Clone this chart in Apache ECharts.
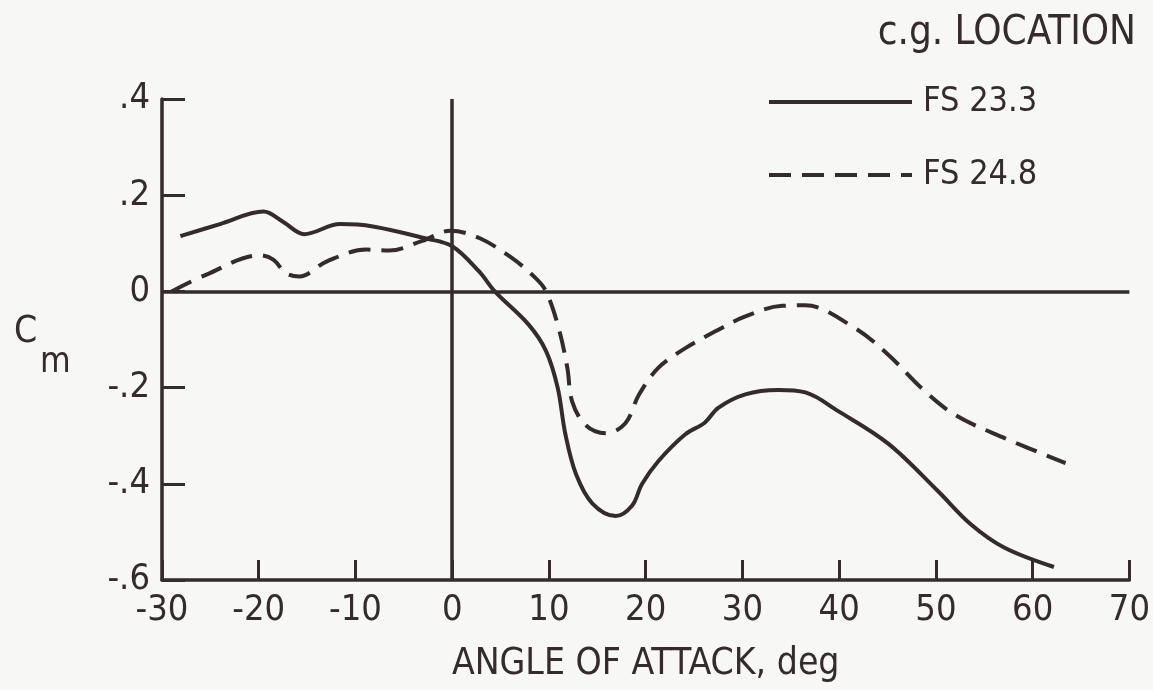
<!DOCTYPE html>
<html>
<head>
<meta charset="utf-8">
<script src="https://cdn.jsdelivr.net/npm/echarts@6/dist/echarts.min.js"></script>
<style>
  html, body { margin: 0; padding: 0; background: #f7f7f5; }
  #chart { width: 1153px; height: 690px; }
</style>
</head>
<body>
<div id="chart"></div>
<script>
// angle of attack (deg) and Cm
const fs233 = [
  [-28.1, 0.115], [-24, 0.14], [-19.5, 0.166], [-17.5, 0.145], [-15.3, 0.119],
  [-11.6, 0.140], [-8.2, 0.135], [-2.7, 0.11], [0, 0.094], [2.8, 0.041],
  [4.4, 0.0], [7.9, -0.069], [9.7, -0.124], [10.9, -0.2], [11.7, -0.297],
  [12.8, -0.380], [14.5, -0.441], [16.9, -0.467], [18.6, -0.445], [19.6, -0.401],
  [21.3, -0.353], [24.1, -0.297], [26.1, -0.273], [27.5, -0.242], [30.3, -0.214],
  [33.7, -0.205], [36.5, -0.21], [39.9, -0.249], [45.1, -0.317], [50.2, -0.415],
  [53.6, -0.484], [57.1, -0.533], [62.2, -0.573]
]
const fs248 = [
  [-29.0, 0.0], [-25.4, 0.035], [-19.9, 0.075], [-18.5, 0.066], [-17.2, 0.038],
  [-15.8, 0.031], [-13.0, 0.062], [-8.9, 0.087], [-6.5, 0.085], [-3.1, 0.105],
  [-0.2, 0.126], [2.8, 0.111], [6.2, 0.069], [8.6, 0.028], [9.7, 0.0],
  [11.0, -0.076], [11.9, -0.159], [12.4, -0.229], [13.8, -0.278], [15.9, -0.295],
  [17.9, -0.274], [19.3, -0.215], [21.3, -0.159], [24.1, -0.118], [27.2, -0.083],
  [30.3, -0.052], [34.1, -0.03], [36.5, -0.029], [41.6, -0.076], [45.1, -0.132],
  [48.5, -0.201], [52.0, -0.257], [57.1, -0.305], [63.4, -0.357]
]
const seriesNames = ['FS 23.3', 'FS 24.8']

const ink = '#352b2b'
const font = '"Liberation Sans Narrow", "DejaVu Sans Condensed", "Liberation Sans", sans-serif'

const chart = echarts.init(document.getElementById('chart'))
chart.setOption({
  backgroundColor: '#f7f7f5',
  animation: false,
  textStyle: { fontFamily: font, color: ink },
  grid: { left: 162, right: 22, top: 99, bottom: 110 },
  title: {
    text: 'c.g. LOCATION',
    right: 12, top: 9,
    textStyle: { fontFamily: font, fontSize: 40, fontWeight: 'normal', color: ink }
  },
  legend: {
    data: seriesNames,
    orient: 'vertical',
    left: 762, top: 80,
    itemWidth: 143, itemHeight: 34, itemGap: 39,
    itemStyle: { opacity: 0 },
    lineStyle: { width: 4 },
    textStyle: { fontFamily: font, fontSize: 34, color: ink, padding: [0, 0, 0, 6] }
  },
  xAxis: {
    type: 'value', min: -30, max: 70, interval: 10,
    name: 'ANGLE OF ATTACK, deg',
    nameLocation: 'middle', nameGap: 66,
    nameTextStyle: { fontFamily: font, fontSize: 37, color: ink },
    axisLine: { onZero: false, lineStyle: { color: ink, width: 3.5 } },
    axisTick: { inside: true, length: 20, lineStyle: { color: ink, width: 3 } },
    axisLabel: { fontSize: 36, color: ink, margin: 13 },
    splitLine: { show: false }
  },
  yAxis: {
    type: 'value', min: -0.6, max: 0.4, interval: 0.2,
    axisLine: { show: true, onZero: false, lineStyle: { color: ink, width: 3.5 } },
    axisTick: { show: true, inside: true, length: 23, lineStyle: { color: ink, width: 3 } },
    axisLabel: {
      fontSize: 36, color: ink, margin: 12,
      formatter: v => v === 0 ? '0' : v.toFixed(1).replace('0.', '.')
    },
    splitLine: { show: false }
  },
  graphic: [
    { type: 'text', left: 14, top: 314, style: { text: 'C', fontFamily: font, fontSize: 37, fill: ink } },
    { type: 'text', left: 40, top: 345, style: { text: 'm', fontFamily: font, fontSize: 35, fill: ink } }
  ],
  series: [
    {
      name: seriesNames[0], type: 'line', data: fs233,
      smooth: 0.35, symbol: 'none',
      lineStyle: { color: ink, width: 4, type: 'solid' },
      itemStyle: { color: ink },
      markLine: {
        silent: true, symbol: 'none', label: { show: false },
        lineStyle: { color: ink, width: 3.5, type: 'solid' },
        emphasis: { disabled: true },
        data: [{ xAxis: 0 }, { yAxis: 0 }]
      }
    },
    {
      name: seriesNames[1], type: 'line', data: fs248,
      smooth: 0.35, symbol: 'none',
      lineStyle: { color: ink, width: 4, type: [22, 11] },
      itemStyle: { color: ink }
    }
  ]
})
</script>
</body>
</html>
